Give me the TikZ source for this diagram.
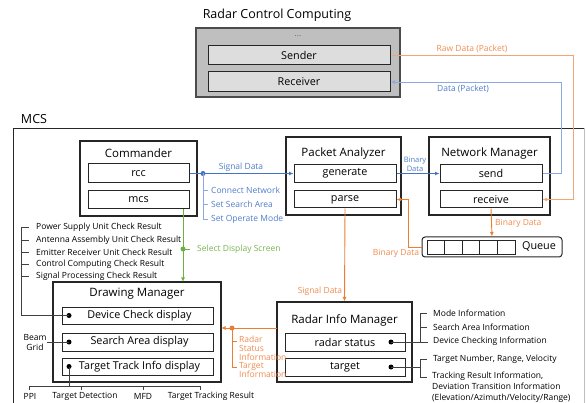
\documentclass[tikz,border=0pt]{standalone}
\usepackage{fontspec}
\setmainfont{Open Sans}
\usetikzlibrary{arrows.meta,calc}
\definecolor{org}{RGB}{237,125,49}
\definecolor{orgl}{RGB}{243,165,115}
\definecolor{orgt}{RGB}{240,140,80}
\definecolor{blu}{RGB}{68,114,196}
\definecolor{blul}{RGB}{140,170,225}
\definecolor{blut}{RGB}{80,125,205}
\definecolor{grn}{RGB}{112,173,71}
\definecolor{grnt}{RGB}{120,180,80}
\definecolor{gbox}{RGB}{191,191,191}
\definecolor{gin}{RGB}{221,221,221}
\begin{document}
\begin{tikzpicture}[x=1pt,y=-1pt,
  mbox/.style={draw=black!85,line width=1.1pt,inner sep=0pt,fill=white},
  sbox/.style={draw=black!85,line width=1pt,inner sep=0pt,font=\fontsize{10.8}{12}\selectfont},
  ttl/.style={font=\fontsize{11.5}{13}\selectfont,inner sep=0pt},
  lbl/.style={font=\fontsize{8.5}{9.2}\selectfont,inner sep=0pt},
  arr/.style={-{Latex[length=4.5pt,width=4pt]}},
  oline/.style={draw=org,line width=0.9pt},
  bline/.style={draw=blu,line width=0.9pt},
  gline/.style={draw=grn,line width=0.9pt},
  kline/.style={draw=black!75,line width=0.7pt},
  dot/.style={circle,fill=black,inner sep=0pt,minimum size=5pt},
  odot/.style={circle,fill=org,inner sep=0pt,minimum size=5pt},
  bdot/.style={circle,fill=blu,inner sep=0pt,minimum size=5pt},
  gdot/.style={circle,fill=grn,inner sep=0pt,minimum size=5pt}]
\useasboundingbox (0,0) rectangle (586,403);
\clip (0,0) rectangle (586,403);
\fill[white] (0,0) rectangle (586,403);

% MCS frame
\draw[black!85,line width=0.9pt] (13,410) -- (13,128) -- (584,128);
\draw[black!25,line width=0.8pt] (584,128) -- (584,410);
\node[font=\fontsize{12.5}{14}\selectfont,inner sep=0pt] (mcslbl) at (34,119) {MCS};

% Radar Control Computing
\node[font=\fontsize{12.5}{14}\selectfont,inner sep=0pt] (rcctitle) at (277,15) {Radar Control Computing};
\node[draw=black!70,line width=1.1pt,fill=gbox,inner sep=0pt,minimum width=204,minimum height=69] (rccbox) at (298,62.5) {};
\node[lbl,text=black!60] (dots) at (298,36) {...};
\node[sbox,fill=gin,minimum width=182,minimum height=19] (sender) at (299,55.5) {Sender};
\node[sbox,fill=gin,minimum width=182,minimum height=20] (receiver) at (299,82) {Receiver};

% Commander
\node[mbox,minimum width=117,minimum height=75] (cmd) at (138.5,178.5) {};
\node[ttl] (cmdt) at (138.5,153) {Commander};
\node[sbox,minimum width=101,minimum height=19] (rcc) at (138.5,173.5) {rcc};
\node[sbox,minimum width=101,minimum height=18] (mcs) at (138.5,200) {mcs};

% Packet Analyzer
\node[mbox,minimum width=115,minimum height=78] (pa) at (343.5,176) {};
\node[ttl] (pat) at (343.5,154) {Packet Analyzer};
\node[sbox,minimum width=102,minimum height=18] (gen) at (345,173.5) {generate};
\node[sbox,minimum width=102,minimum height=17] (parse) at (345,199.5) {parse};

% Network Manager
\node[mbox,minimum width=121,minimum height=78] (nm) at (489.5,176) {};
\node[ttl] (nmt) at (489.5,154) {Network Manager};
\node[sbox,minimum width=102,minimum height=18] (send) at (491,173.5) {send};
\node[sbox,minimum width=102,minimum height=17] (receive) at (491,199.5) {receive};

% Queue
\node[draw=black!85,line width=1pt,rounded corners=3pt,inner sep=0pt,minimum width=140,minimum height=20] (queue) at (492,247) {};
\draw[black!85,line width=0.8pt] (427,240) rectangle (515,254);
\foreach \i in {1,...,4} \draw[black!85,line width=0.8pt] (427+17.6*\i,240) -- (427+17.6*\i,254);
\node[font=\fontsize{10.8}{12}\selectfont,inner sep=0pt] (queuet) at (539,247) {Queue};

% Drawing Manager
\node[mbox,minimum width=168,minimum height=100] (dm) at (137,332) {};
\node[ttl] (dmt) at (137,294) {Drawing Manager};
\node[sbox,minimum width=151,minimum height=17] (dcd) at (137.5,315.5) {\hspace*{4pt}Device Check display};
\node[sbox,minimum width=151,minimum height=18] (sad) at (137.5,342) {\hspace*{4pt}Search Area display};
\node[sbox,minimum width=151,minimum height=17] (ttd) at (137.5,366.5) {\hspace*{4pt}Target Track Info display};
\node[dot] (d1) at (69,315.5) {};
\node[dot] (d2) at (69,342) {};
\node[dot] (d3) at (69,366.5) {};

% Radar Info Manager
\node[mbox,minimum width=135,minimum height=80] (rim) at (344.5,342) {};
\node[ttl] (rimt) at (344.5,320) {Radar Info Manager};
\node[sbox,minimum width=120,minimum height=18] (rs) at (345,342) {radar status};
\node[sbox,minimum width=120,minimum height=18] (tg) at (345,367) {target};
\node[dot] (d4) at (391,342) {};
\node[dot] (d5) at (391,367) {};

% Raw Data (Packet)
\coordinate (rawc) at (573,55.5);
\draw[draw=orgl,line width=0.9pt,arr] (sender.east) -- (rawc) |- (receive.east);
\node[lbl,text=orgt] (rawl) at (472,48.5) {Raw Data (Packet)};

% Data (Packet)
\coordinate (datc) at (561,82);
\draw[draw=blul,line width=0.9pt,arr] (send.east) -| (datc) -- (receiver.east);
\node[lbl,text=blut] (datl) at (463,88.5) {Data (Packet)};

% Signal Data (blue)
\draw[bline,arr] (rcc.east) -- (gen.west);
\node[bdot] (bd) at (203,173.5) {};
\node[lbl,text=blut] (sigl) at (241,167) {Signal Data};
\coordinate (bk1) at (208,190);
\coordinate (bk2) at (208,204);
\coordinate (bk3) at (208,219);
\draw[draw=blul,line width=0.8pt] (bd.center) |- (bk3);
\draw[draw=blul,line width=0.8pt] (bd.center |- bk1) -- (bk1);
\draw[draw=blul,line width=0.8pt] (bd.center |- bk2) -- (bk2);
\node[lbl,text=blut,anchor=west] (cn) at (211,190) {Connect Network};
\node[lbl,text=blut,anchor=west] (ssa) at (211,204) {Set Search Area};
\node[lbl,text=blut,anchor=west] (som) at (211,219) {Set Operate Mode};

% Binary Data gen->send
\draw[bline,arr] (gen.east) -- (send.west);
\node[lbl,text=blut,font=\fontsize{7.5}{8.5}\selectfont,align=center] (bdl1) at (415,164.5) {Binary\\Data};

% receive -> queue
\draw[oline,arr] (receive.south) -- (queue.north);
\node[lbl,text=orgt,anchor=west] (bdl2) at (495,223) {Binary Data};

% queue -> parse
\coordinate (qc) at (408,247);
\draw[oline,arr] (queue.west) -- (qc) |- (parse.east);
\node[lbl,text=orgt] (bdl3) at (396,253) {Binary Data};

% parse -> rim
\draw[oline,arr] (parse.south) -- (rim.north);
\node[lbl,text=orgt] (sdl) at (320,291.5) {Signal Data};

% mcs -> dm (green)
\coordinate (gtop) at (183,209);
\coordinate (gbot) at (183,282);
\draw[gline,arr] (gtop) -- (gbot);
\node[gdot] (gd) at (183,249) {};
\coordinate (gtk) at (190,249);
\draw[gline] (gd.center) -- (gtk);
\node[lbl,text=grnt,anchor=west] (sds) at (197,249) {Select Display Screen};

% rim -> dm (orange)
\coordinate (orl) at (277,328);
\coordinate (orr) at (221,328);
\draw[oline,arr] (orl) -- (orr);
\node[odot] (od) at (232,328) {};
\coordinate (ot1) at (237,341);
\coordinate (ot2) at (237,367);
\draw[oline,line width=0.8pt] (od.center) |- (ot2);
\draw[oline,line width=0.8pt] (od.center |- ot1) -- (ot1);
\node[lbl,text=orgt,anchor=north west,align=left] (rsi) at (239,335.5) {Radar\\Status\\Information};
\node[lbl,text=orgt,anchor=north west,align=left] (ti) at (239,362) {Target\\Information};

% left check-result bracket
\coordinate (lb0) at (21,227.5);
\draw[kline] (lb0) |- (d1.center);
\foreach \yy/\tt in {227.5/Power Supply Unit Check Result,240/Antenna Assembly Unit Check Result,252/Emitter Receiver Unit Check Result,264/Control Computing Check Result,276/Signal Processing Check Result}{
  \draw[kline] (21,\yy) -- (29,\yy);
  \node[lbl,anchor=west] at (36,\yy) {\tt};
}

% Beam Grid
\node[lbl,align=center] (bg) at (35,342.5) {Beam\\Grid};
\coordinate (bgc) at (47,342);
\draw[kline] (bgc) -- (d2.center);

% bottom bracket
\coordinate (bb) at (69,386);
\draw[kline] (d3.center) -- (bb);
\draw[kline] (29,390) -- (29,386) -- (200,386) -- (200,390);
\draw[kline] (81,386) -- (81,390);
\draw[kline] (143,386) -- (143,390);
\node[lbl] (ppi) at (30,396.5) {PPI};
\node[lbl] (tdt) at (85,396.5) {Target Detection};
\node[lbl] (mfd) at (143,396.5) {MFD};
\node[lbl] (ttr) at (211,396.5) {Target Tracking Result};

% radar status bracket
\coordinate (rb1) at (427,313);
\coordinate (rb2) at (427,327);
\coordinate (rb3) at (428,342);
\draw[kline] (d4.center) -- (rb3);
\draw[kline] (rb1) -- (420,313) -- (420,342);
\draw[kline] (420,327) -- (rb2);
\node[lbl,anchor=west] (mi) at (433,313) {Mode Information};
\node[lbl,anchor=west] (sai) at (433,327) {Search Area Information};
\node[lbl,anchor=west] (dci) at (433,341.5) {Device Checking Information};

% target bracket
\coordinate (tb) at (420,367);
\draw[kline] (d5.center) -- (tb);
\draw[kline] (427,359) -- (420,359) -- (420,377) -- (427,377);
\node[lbl,anchor=west] (tnr) at (433,359) {Target Number, Range, Velocity};
\node[lbl,anchor=north west,align=left,font=\fontsize{8.5}{11}\selectfont] (tri) at (432,372) {Tracking Result Information,\\Deviation Transition Information\\(Elevation/Azimuth/Velocity/Range)};
\end{tikzpicture}
\end{document}
